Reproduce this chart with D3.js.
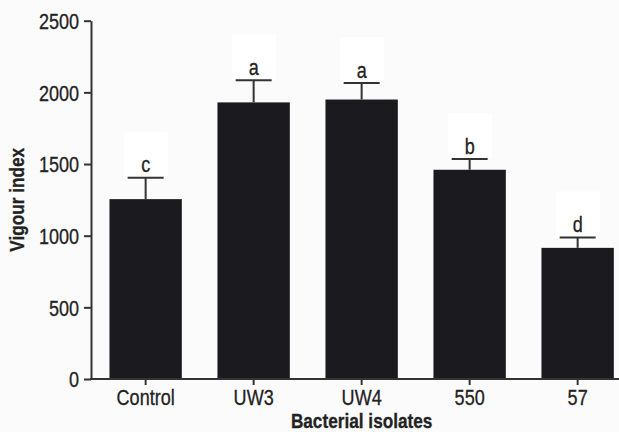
<!DOCTYPE html>
<html>
<head>
<meta charset="utf-8">
<script src="https://cdn.jsdelivr.net/npm/d3@7/dist/d3.min.js"></script>
<style>
  html, body { margin: 0; padding: 0; background: #fbfbfb; }
  svg { display: block; }
  text { font-family: "Liberation Sans", Arial, sans-serif; fill: #222; stroke: #222; stroke-width: 0.3px; }
</style>
</head>
<body>
<svg id="chart" width="619" height="432"></svg>
<script>
// Vigour index of seedlings per bacterial isolate (mean ± SE, letters = significance groups)
const categories = ["Control", "UW3", "UW4", "550", "57"];
const means      = [1255, 1930, 1950, 1460, 915];
const errors     = [150, 155, 115, 75, 72];
const letters    = ["c", "a", "a", "b", "d"];
const yTicks     = [0, 500, 1000, 1500, 2000, 2500];

const W = 619, H = 432;
const plotLeft = 91, plotTop = 20.7, plotBottom = 379, plotRight = 91 + 541.3;
const NARROW = 0.82; // horizontal squeeze giving a condensed sans face

const svg = d3.select("#chart");

const x = d3.scaleBand()
  .domain(categories)
  .range([plotLeft, plotRight])
  .paddingInner(0.33)
  .paddingOuter(0.171);

const y = d3.scaleLinear().domain([0, 2500]).range([plotBottom, plotTop]);

const data = categories.map((c, i) => ({ cat: c, mean: means[i], err: errors[i], letter: letters[i] }));
const cx = d => x(d.cat) + x.bandwidth() / 2;

// condensed text placed at (px, py)
function narrowText(sel, px, py) {
  return sel.attr("x", 0).attr("y", 0)
    .attr("transform", (d, i, n) => {
      const tx = typeof px === "function" ? px(d, i, n) : px;
      const ty = typeof py === "function" ? py(d, i, n) : py;
      return `translate(${tx},${ty}) scale(${NARROW},1)`;
    });
}

// white panels behind the significance letters
svg.append("g").selectAll("rect")
  .data(data).join("rect")
  .attr("x", d => cx(d) - 22)
  .attr("y", d => y(d.mean + d.err) - 46)
  .attr("width", 44)
  .attr("height", 46)
  .attr("fill", "#ffffff");

// bars
svg.append("g").selectAll("rect")
  .data(data).join("rect")
  .attr("x", d => x(d.cat))
  .attr("y", d => y(d.mean))
  .attr("width", x.bandwidth())
  .attr("height", d => y(0) - y(d.mean))
  .attr("fill", "#1b1a1f");

// error bars (upper whisker only)
const eb = svg.append("g").attr("stroke", "#333").attr("stroke-width", 2);
eb.selectAll("line.v")
  .data(data).join("line").attr("class", "v")
  .attr("x1", cx).attr("x2", cx)
  .attr("y1", d => y(d.mean))
  .attr("y2", d => y(d.mean + d.err));
eb.selectAll("line.cap")
  .data(data).join("line").attr("class", "cap")
  .attr("x1", d => cx(d) - 18)
  .attr("x2", d => cx(d) + 18)
  .attr("y1", d => y(d.mean + d.err))
  .attr("y2", d => y(d.mean + d.err));

// significance letters
svg.append("g").selectAll("text")
  .data(data).join("text")
  .call(narrowText, cx, d => y(d.mean + d.err) - 5.5)
  .attr("text-anchor", "middle")
  .style("font-size", "22px")
  .text(d => d.letter);

// y axis
const yAxis = svg.append("g")
  .attr("transform", `translate(${plotLeft},0)`)
  .call(d3.axisLeft(y).tickValues(yTicks).tickFormat(d3.format("d")).tickSize(7).tickPadding(5).tickSizeOuter(0));
yAxis.select(".domain").attr("stroke", "#333").attr("stroke-width", 2);
yAxis.selectAll(".tick line").attr("stroke", "#333").attr("stroke-width", 2);
yAxis.selectAll(".tick text")
  .attr("dy", "0.36em")
  .attr("transform", `scale(${NARROW},1)`)
  .attr("x", -12 / NARROW)
  .style("font-size", "22px").attr("fill", "#222");

// x axis
const xAxis = svg.append("g")
  .attr("transform", `translate(0,${plotBottom})`)
  .call(d3.axisBottom(x).tickSize(6).tickPadding(4).tickSizeOuter(0));
xAxis.select(".domain").attr("stroke", "#333").attr("stroke-width", 2)
  .attr("d", `M${plotLeft - 1},0H${W}`);
xAxis.selectAll(".tick line").attr("stroke", "#333").attr("stroke-width", 2);
xAxis.selectAll(".tick text")
  .attr("transform", `scale(${NARROW},1)`)
  .style("font-size", "22px").attr("fill", "#222");

// axis titles
svg.append("text")
  .call(narrowText, (plotLeft + plotRight) / 2, 427.5)
  .attr("text-anchor", "middle")
  .style("font-size", "21px")
  .style("font-weight", "bold")
  .text("Bacterial isolates");

svg.append("text")
  .attr("x", 0).attr("y", 0)
  .attr("transform", `translate(24,${(plotTop + plotBottom) / 2}) rotate(-90) scale(${NARROW},1)`)
  .attr("text-anchor", "middle")
  .style("font-size", "21px")
  .style("font-weight", "bold")
  .text("Vigour index");
</script>
</body>
</html>
